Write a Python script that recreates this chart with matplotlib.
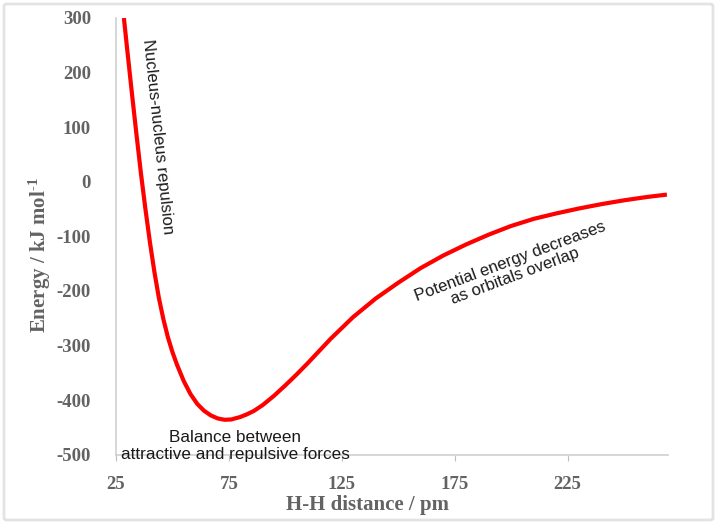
import matplotlib
matplotlib.use("Agg")
import matplotlib.pyplot as plt
from matplotlib.patches import FancyBboxPatch

# Data
distance_pm = [28.5, 30, 32, 34, 36, 38, 40, 42, 44, 46, 48, 50, 52, 55, 58, 61,
               64, 67, 70, 73, 76, 80, 83, 86, 90, 95, 100, 105, 110, 115, 120,
               130, 140, 150, 160, 170, 180, 190, 200, 210, 220, 230, 240, 250,
               260, 269]
energy_kj = [300, 241, 164, 89, 17, -49, -110, -165, -213, -252, -285, -312, -335,
             -365, -389, -407, -419.5, -428, -433.5, -436, -435.5, -431, -426,
             -420, -409, -392, -373, -353, -332, -310, -288, -248, -214, -185,
             -158, -135, -115, -97, -81, -68, -58, -49, -41, -34, -28, -23.5]

x_ticks = [25, 75, 125, 175, 225]
x_tick_labels = ["25", "75", "125", "175", "225"]
y_ticks = [-500, -400, -300, -200, -100, 0, 100, 200, 300]
y_tick_labels = ["-500", "-400", "-300", "-200", "-100", "0", "100", "200", "300"]

plt.rcParams["mathtext.fontset"] = "custom"
plt.rcParams["mathtext.rm"] = "Liberation Serif:bold"
plt.rcParams["mathtext.default"] = "rm"

fig = plt.figure(figsize=(7.2, 5.26), dpi=100)
ax = fig.add_axes([116/720, 1 - 454.7/526, (668-116)/720, (454.7-18)/526])

ax.plot(distance_pm, energy_kj, color="#ff0000", lw=3, solid_joinstyle="round",
        solid_capstyle="butt", zorder=3)

ax.set_xlim(25, 269.5)
ax.set_ylim(-500, 300)
ax.set_xticks(x_ticks)
ax.set_xticklabels(x_tick_labels)
ax.set_yticks(y_ticks)
ax.set_yticklabels(y_tick_labels)

tick_color = "#636363"
for lab in ax.get_xticklabels() + ax.get_yticklabels():
    lab.set_fontfamily("Liberation Serif")
    lab.set_fontweight("bold")
    lab.set_fontsize(13.5)
    lab.set_color(tick_color)

ax.tick_params(axis="x", length=4, color="#bfbfbf", pad=11, direction="out")
ax.tick_params(axis="y", length=0, pad=18)

for s in ["top", "right"]:
    ax.spines[s].set_visible(False)
for s in ["left", "bottom"]:
    ax.spines[s].set_color("#d0d0d0")
    ax.spines[s].set_linewidth(1.2)

# Axis titles
fig.text(40/720, 1 - 255/526, "Energy / kJ mol$^{\u2010 1}$", rotation=90,
         ha="center", va="center", fontsize=15, fontweight="bold",
         color=tick_color, family="Liberation Serif")
fig.text(367/720, 1 - 505/526, "H-H distance / pm",
         ha="center", va="center", fontsize=15, fontweight="bold",
         color=tick_color, family="Liberation Serif")

# Annotations
ann_font = dict(family="Liberation Sans", color="#1a1a1a")
ax.text(43.6, 82, "Nucleus-nucleus repulsion", rotation=-84, fontsize=12,
        ha="center", va="center", rotation_mode="anchor", **ann_font)
ax.text(77.7, -484, "Balance between\nattractive and repulsive forces",
        ha="center", va="center", multialignment="center", linespacing=1.2,
        fontsize=12.3, **ann_font)
ax.text(200.7, -160, "Potential energy decreases\nas orbitals overlap", rotation=20.5,
        ha="center", va="center", multialignment="center", rotation_mode="anchor",
        linespacing=1.05, fontsize=12, **ann_font)

# Light frame around figure
frame = FancyBboxPatch((4/720, 6/526), (713-4)/720, (520-4)/526,
                       boxstyle="round,pad=0,rounding_size=0.004",
                       transform=fig.transFigure, fill=False,
                       edgecolor="#e3e3e3", linewidth=2)
fig.patches.append(frame)

fig.savefig("out.png", dpi=100)
